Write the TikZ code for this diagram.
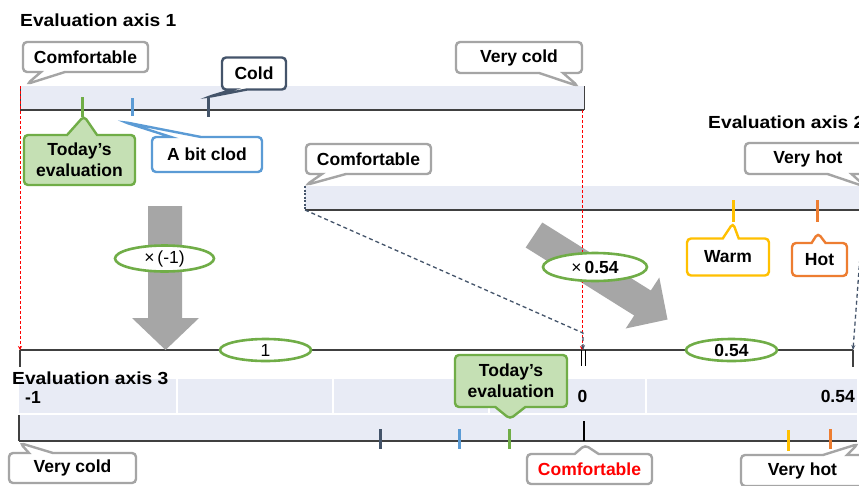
\documentclass[tikz,border=0pt]{standalone}
\usepackage{fontspec}
\setmainfont{Liberation Sans}
\usetikzlibrary{shapes.callouts,shapes.geometric,arrows.meta}
\definecolor{cgray}{HTML}{A5A5A5}
\definecolor{cnavy}{HTML}{44546A}
\definecolor{cgreen}{HTML}{70AD47}
\definecolor{cgreenfill}{HTML}{C5E0B4}
\definecolor{cblue}{HTML}{5B9BD5}
\definecolor{cyellow}{HTML}{FFC000}
\definecolor{corange}{HTML}{ED7D31}
\definecolor{cbar}{HTML}{E8EBF5}
\definecolor{cline}{HTML}{404040}
\definecolor{carrow}{HTML}{A6A6A6}
\begin{document}
\begin{tikzpicture}[x=1pt,y=-1pt,
  co/.style={rectangle callout, draw=cgray, line width=2.4pt, rounded corners=4pt, fill=white,
    inner sep=0pt, font=\bfseries\fontsize{17.5}{21}\selectfont, callout pointer width=24pt, align=center},
  ttl/.style={font=\bfseries\fontsize{17.5}{20}\selectfont, inner sep=0pt, anchor=west},
  lbl/.style={font=\bfseries\fontsize{17.5}{20}\selectfont, inner sep=0pt},
  ev/.style={ellipse, draw=cgreen, line width=2.6pt, fill=white, inner sep=0pt, font=\fontsize{17.5}{20}\selectfont},
  bar/.style={fill=cbar, draw=none, inner sep=0pt, outer sep=0pt},
  tk/.style={line width=3pt},
  baseline/.style={draw=cline, line width=1.2pt},
  reddash/.style={red, dash pattern=on 3pt off 2pt, line width=0.8pt, -{Stealth[length=4pt,width=4pt]}},
  navydash/.style={cnavy, dash pattern=on 4pt off 3pt, line width=1.3pt, -{Stealth[length=5pt,width=4pt]}},
  bigarrow/.style={fill=carrow, draw=none}]
\clip (0,0) rectangle (859,485);
\fill[white] (0,0) rectangle (859,485);

% ---------- axis 1
\node[bar, minimum width=564pt, minimum height=24pt] (ax1) at (302,98) {};
\draw[baseline] (ax1.south west) -- (ax1.south east);
\draw[cline, line width=1pt] (ax1.north west) -- (ax1.south west);
\draw[cline, line width=1pt] (ax1.north east) -- (ax1.south east);

% ---------- axis 2
\node[bar, minimum width=558pt, minimum height=24pt] (ax2) at (584,198) {};
\draw[baseline] (ax2.south west) -- (ax2.south east);
\draw[cnavy, dash pattern=on 2pt off 1.5pt, line width=1.5pt] (ax2.north west) -- (ax2.south west);

% ---------- main scale line
\coordinate (m0) at (20,350);
\coordinate (m1) at (583,350);
\coordinate (m2) at (853,350);
\draw[baseline] (m0) -- (m2);
\draw[cline, line width=1.2pt] (m0) -- (20,367);
\draw[black, line width=1.2pt] (581.5,350) -- (581.5,366);
\draw[black, line width=1.2pt] (585.5,350) -- (585.5,366);
\draw[cline, line width=1.2pt] (m2) -- (853,367);

% ---------- axis 3
\node[bar, minimum width=838pt, minimum height=34pt] (ax3t) at (438,396) {};
\node[bar, minimum width=838pt, minimum height=26pt] (ax3b) at (438,428) {};
\foreach \xx in {177,333,489,646} \draw[white, line width=1.5pt] (\xx,379) -- (\xx,413);
\draw[baseline] (ax3b.south west) -- (ax3b.south east);
\draw[cline, line width=1.2pt] (ax3b.north west) -- (ax3b.south west);
\node[lbl, anchor=west] (lm1) at (25,397) {-1};
\node[lbl] (l0) at (582.5,396) {0};
\node[lbl, anchor=east] (l054) at (855,396) {0.54};

% ---------- big grey arrows
\fill[bigarrow] (148,206) -- (182,206) -- (182,318) -- (199,318) -- (165.5,350) -- (132,318) -- (148,318) -- cycle;
\fill[bigarrow] (542.3,222.5) -- (650.8,290.5) -- (659.3,277.5) -- (667.5,319.5) -- (625.7,328.5) -- (634.2,315.5) -- (525.7,247.5) -- cycle;

% ---------- projection lines
\coordinate (r1) at (582,110);
\coordinate (r1b) at (582,350);
\draw[reddash] (ax1.north west) -- (m0);
\draw[reddash] (r1) -- (r1b);
\coordinate (n1) at (583,333);
\coordinate (ax2r) at (863.5,210);
\draw[navydash] (ax2.south west) -- (n1) -- (m1);
\draw[navydash] (ax2r) -- (m2);

% ---------- ellipses
\node[ev, minimum width=99pt, minimum height=26pt] (e1) at (164.5,258.5) {×\,(-1)};
\node[ev, minimum width=104pt, minimum height=28pt] (e2) at (595,267) {×\,\textbf{0.54}};
\node[ev, minimum width=91pt, minimum height=22pt] (e3) at (265.5,350) {1};
\node[ev, minimum width=91pt, minimum height=22pt, font=\bfseries\fontsize{17.5}{20}\selectfont] (e4) at (731.5,350) {0.54};

% ---------- ticks
\draw[tk, cgreen] (82,97) -- (82,117);
\draw[tk, cblue] (132,98) -- (132,116);
\draw[tk, cnavy] (208,97) -- (208,117);
\draw[tk, cyellow] (733,200) -- (733,222);
\draw[tk, corange] (817,200) -- (817,222);
\draw[tk, cnavy] (380,429) -- (380,449);
\draw[tk, cblue] (459,429) -- (459,449);
\draw[tk, cgreen] (509,429) -- (509,449);
\draw[black, line width=1.5pt] (584,421) -- (584,441);
\draw[tk, cyellow] (788,430) -- (788,451);
\draw[tk, corange] (830,429) -- (830,449);

% ---------- callouts
\node[co, minimum width=125pt, minimum height=30pt, callout absolute pointer={(27,84)}] (c1) at (85.5,57) {Comfortable};
\node[co, minimum width=126pt, minimum height=31pt, callout absolute pointer={(578,86)}] (c2) at (519,57.5) {Very cold};
\node[co, draw=cnavy, minimum width=64pt, minimum height=32pt, callout pointer width=14pt, callout absolute pointer={(208,97)}] (c3) at (254,73.5) {Cold};
\node[co, draw=cgreen, fill=cgreenfill, minimum width=111pt, minimum height=50pt, callout pointer width=30pt, callout absolute pointer={(84,116)}] (c4) at (79.5,160) {Today’s\\evaluation};
\node[co, draw=cblue, minimum width=110pt, minimum height=35pt, callout pointer width=30pt, callout absolute pointer={(124,122)}] (c5) at (207,154.5) {A bit clod};
\node[co, minimum width=125pt, minimum height=30pt, callout absolute pointer={(306,185)}] (c6) at (368.5,159) {Comfortable};
\node[co, minimum width=126pt, minimum height=31pt, callout absolute pointer={(866,187)}] (c7) at (808,158.5) {Very hot};
\node[co, draw=cyellow, minimum width=82pt, minimum height=37pt, callout pointer width=16pt, callout absolute pointer={(733,223)}] (c8) at (728,257) {Warm};
\node[co, draw=corange, minimum width=55pt, minimum height=33pt, callout pointer width=14pt, callout absolute pointer={(818,233)}] (c9) at (819.5,259.5) {Hot};
\node[co, minimum width=127pt, minimum height=30pt, callout absolute pointer={(20,443)}] (c10) at (72.5,468) {Very cold};
\node[co, minimum width=125pt, minimum height=30pt, text=red, callout absolute pointer={(585,445)}] (c11) at (589.5,469) {Comfortable};
\node[co, minimum width=123pt, minimum height=31pt, callout absolute pointer={(858,444)}] (c12) at (802.5,470.5) {Very hot};
\node[co, draw=cgreen, fill=cgreenfill, minimum width=112pt, minimum height=52pt, callout pointer width=30pt, callout absolute pointer={(510,419)}] (c13) at (511,381) {Today’s\\evaluation};

% ---------- titles
\node[ttl] (t1) at (20,20) {\scalebox{1.1}[1]{Evaluation axis 1}};
\node[ttl] (t2) at (708,122) {\scalebox{1.1}[1]{Evaluation axis 2}};
\node[ttl] (t3) at (12,378) {\scalebox{1.1}[1]{Evaluation axis 3}};
\end{tikzpicture}
\end{document}
